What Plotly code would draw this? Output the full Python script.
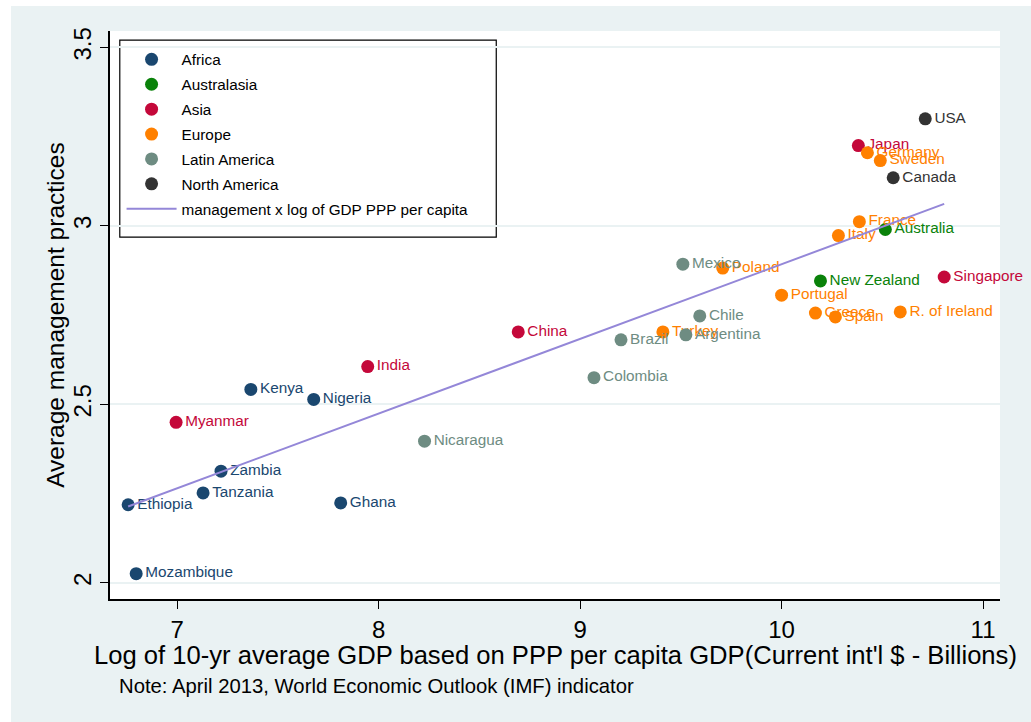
import numpy as np
import plotly.graph_objects as go

countries = ["Ethiopia", "Mozambique", "Myanmar", "Tanzania", "Zambia", "Kenya", "Nigeria",
             "Ghana", "India", "Nicaragua", "China", "Colombia", "Brazil", "Turkey", "Mexico",
             "Argentina", "Chile", "Poland", "Portugal", "Greece", "New Zealand", "Spain",
             "Italy", "Japan", "France", "Germany", "Sweden", "Australia", "Canada",
             "R. of Ireland", "USA", "Singapore"]
regions = ["Africa", "Africa", "Asia", "Africa", "Africa", "Africa", "Africa",
           "Africa", "Asia", "Latin America", "Asia", "Latin America", "Latin America", "Europe", "Latin America",
           "Latin America", "Latin America", "Europe", "Europe", "Europe", "Australasia", "Europe",
           "Europe", "Asia", "Europe", "Europe", "Europe", "Australasia", "North America",
           "Europe", "North America", "Asia"]
log_gdp = [6.757, 6.797, 6.995, 7.129, 7.218, 7.366, 7.678,
           7.812, 7.946, 8.228, 8.693, 9.069, 9.203, 9.411, 9.510,
           9.525, 9.594, 9.708, 10.000, 10.168, 10.193, 10.267,
           10.282, 10.381, 10.386, 10.426, 10.490, 10.515, 10.554,
           10.589, 10.713, 10.807]
management = [2.219, 2.026, 2.450, 2.252, 2.313, 2.542, 2.514,
              2.224, 2.606, 2.397, 2.703, 2.575, 2.681, 2.703, 2.893,
              2.695, 2.748, 2.882, 2.806, 2.756, 2.846, 2.745,
              2.973, 3.225, 3.012, 3.205, 3.183, 2.990, 3.135,
              2.759, 3.300, 2.857]

region_order = ["Africa", "Australasia", "Asia", "Europe", "Latin America", "North America"]
region_colors = {"Africa": "#1A476F", "Australasia": "#0A820A", "Asia": "#C4083A",
                 "Europe": "#FF8000", "Latin America": "#6E8C82", "North America": "#333333"}

x_ticks = [7, 8, 9, 10, 11]
y_ticks = [2, 2.5, 3, 3.5]
y_tick_text = ["2", "2.5", "3", "3.5"]

BG = "#EAF2F3"
FONT = "Liberation Sans, Arial, Helvetica, sans-serif"
LBL = 15.3

fig = go.Figure()
for reg in region_order:
    idx = [i for i, r in enumerate(regions) if r == reg]
    c = region_colors[reg]
    fig.add_trace(go.Scatter(
        x=[log_gdp[i] for i in idx], y=[management[i] for i in idx],
        text=[countries[i] for i in idx], mode="markers+text",
        textposition="middle right", name=reg, legendgroup=reg,
        marker=dict(color=c, size=13, line=dict(width=0)),
        textfont=dict(color=c, size=LBL, family=FONT),
        cliponaxis=False,
    ))

# linear fit of management on log GDP
xs = np.array(log_gdp)
ys = np.array(management)
slope, intercept = np.polyfit(xs, ys, 1)
fx = np.array([xs.min(), xs.max()])
fig.add_trace(go.Scatter(x=fx, y=intercept + slope * fx, mode="lines",
                         name="management x log of GDP PPP per capita", legendgroup="fit",
                         line=dict(color="#9487D8", width=2)))

fig.update_layout(
    width=1031, height=722,
    paper_bgcolor=BG, plot_bgcolor="white",
    margin=dict(l=110, r=31, t=31, b=123),
    font=dict(family=FONT, color="black"),
    showlegend=True,
    legend=dict(x=0.013, y=0.979, xanchor="left", yanchor="top",
                bgcolor="rgba(0,0,0,0)", borderwidth=0,
                font=dict(size=LBL, family=FONT), tracegroupgap=2, itemwidth=50),
    xaxis=dict(range=[6.667, 11.084], tickvals=x_ticks, ticks="outside", ticklen=8,
               tickcolor="black", showline=True, linecolor="black", linewidth=1.5,
               showgrid=False, zeroline=False, tickfont=dict(size=24, family=FONT)),
    yaxis=dict(range=[1.955, 3.546], tickvals=y_ticks, ticktext=y_tick_text, ticks="outside",
               ticklen=8, tickcolor="black", showline=True, linecolor="black", linewidth=1.5,
               showgrid=True, gridcolor=BG, gridwidth=2, zeroline=False, tickangle=-90,
               tickfont=dict(size=24, family=FONT)),
    shapes=[
        dict(type="rect", xref="paper", yref="paper", x0=0.011, x1=0.434, y0=0.637, y1=0.984,
             line=dict(color="black", width=1.2), fillcolor="white", layer="below"),
        dict(type="rect", xref="paper", yref="paper", x0=-110/890, x1=-99/890, y0=-1, y1=2,
             line=dict(width=0), fillcolor="white"),
        dict(type="rect", xref="paper", yref="paper", x0=-1, x1=2, y0=(599-6)/568, y1=3,
             line=dict(width=0), fillcolor="white"),
    ],
    annotations=[
        dict(text="Average management practices", xref="paper", yref="paper", x=-0.062, y=0.5,
             textangle=-90, showarrow=False, font=dict(size=24.5, family=FONT),
             xanchor="center", yanchor="middle"),
        dict(text="Log of 10-yr average GDP based on PPP per capita GDP(Current int'l $ - Billions)",
             xref="paper", yref="paper", x=0.5, y=-0.0986, showarrow=False,
             font=dict(size=25.6, family=FONT), xanchor="center", yanchor="middle"),
        dict(text="Note: April 2013, World Economic Outlook (IMF) indicator", xref="paper",
             yref="paper", x=0.0079, y=-0.153, showarrow=False, font=dict(size=20.3, family=FONT),
             xanchor="left", yanchor="middle"),
    ],
)

fig.write_html("out.html", config={"displayModeBar": False},
               post_script="document.body.style.margin='0';document.body.style.overflow='hidden';")
